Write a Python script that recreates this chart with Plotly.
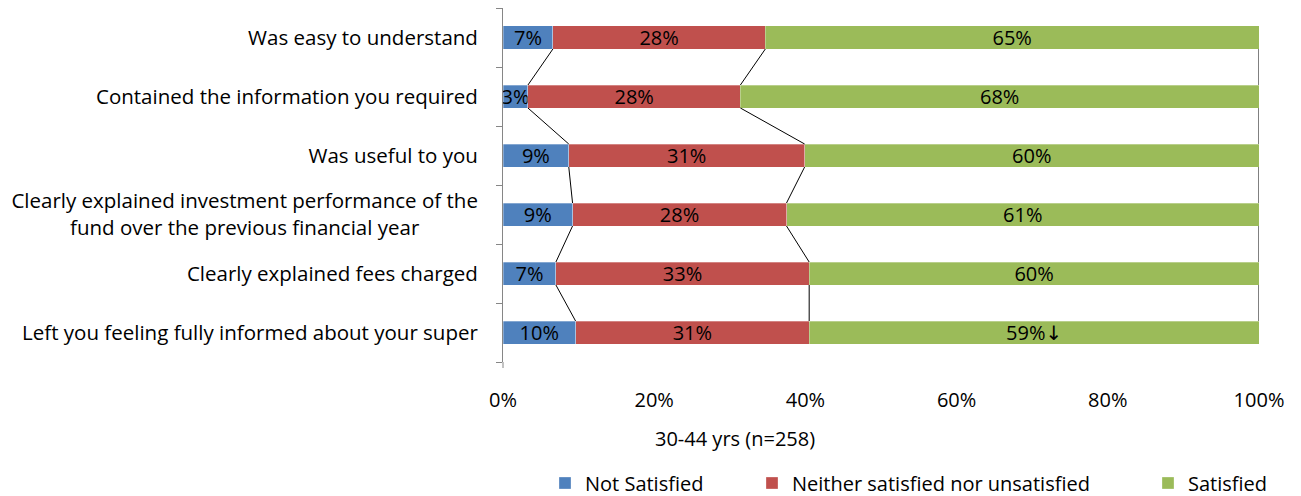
import plotly.graph_objects as go

# ---------------- data ----------------
categories = [
    "Was easy to understand",
    "Contained the information you required",
    "Was useful to you",
    "Clearly explained investment performance of the<br>fund over the previous financial year" + "\u00a0" * 11,
    "Clearly explained fees charged",
    "Left you feeling fully informed about your super",
]
series_names = ["Not Satisfied", "Neither satisfied nor unsatisfied", "Satisfied"]
not_satisfied = [6.6, 3.3, 8.7, 9.2, 7.0, 9.6]
neither = [28.1, 28.1, 31.2, 28.3, 33.5, 30.9]
satisfied = [65.3, 68.6, 60.1, 62.5, 59.5, 59.5]
labels_not = ["7%", "3%", "9%", "9%", "7%", "10%"]
labels_neither = ["28%", "28%", "31%", "28%", "33%", "31%"]
labels_sat = ["65%", "68%", "60%", "61%", "60%",
              "59%<span style=\"font-family:'DejaVu Sans'\">\u2193</span>"]
x_tick_vals = [0, 20, 40, 60, 80, 100]
x_tick_text = ["0%", "20%", "40%", "60%", "80%", "100%"]
axis_title = "30-44 yrs (n=258)"

colors = ["#4F81BD", "#C0504D", "#9BBB59"]
FONT = "Open Sans"
# page has an 8px body margin: figure coordinates = reference pixels - 8
OFF = 8
W, H = 1301 - OFF, 496 - OFF
L = 503 - OFF
R = W - (1259 - OFF)
T = 0
B = H - (362 - OFF)
bar_w = 0.39

rows = list(range(len(categories)))
series = [not_satisfied, neither, satisfied]
labels = [labels_not, labels_neither, labels_sat]

fig = go.Figure()
legend_ids = ["legend", "legend2", "legend3"]
for k in range(3):
    fig.add_trace(go.Bar(
        x=series[k], y=rows, orientation="h", width=bar_w,
        name=series_names[k],
        marker=dict(color=colors[k], line=dict(width=0.5, color="rgba(255,255,255,0.6)")),
        text=labels[k], textposition="inside", insidetextanchor="middle",
        textangle=0, constraintext="none",
        textfont=dict(family=FONT, size=20, color="#000"),
        legend=legend_ids[k], cliponaxis=False, hoverinfo="skip",
    ))

# series lines (connect cumulative boundaries between adjacent bars)
cum1 = [a for a in not_satisfied]
cum2 = [a + b for a, b in zip(not_satisfied, neither)]
cum3 = [a + b + c for a, b, c in zip(not_satisfied, neither, satisfied)]
lx, ly = [], []
for cum in (cum1, cum2, cum3):
    for i in range(len(rows) - 1):
        lx += [cum[i], cum[i + 1], None]
        ly += [rows[i] + bar_w / 2, rows[i + 1] - bar_w / 2, None]
fig.add_trace(go.Scatter(x=lx, y=ly, mode="lines", line=dict(color="#000", width=1),
                         showlegend=False, hoverinfo="skip", cliponaxis=False))

fig.update_layout(
    barmode="stack",
    width=W, height=H,
    margin=dict(l=L, r=R, t=T, b=B, autoexpand=False),
    paper_bgcolor="white", plot_bgcolor="white",
    font=dict(family=FONT, size=20, color="#000"),
    showlegend=True,
)
fig.update_xaxes(
    range=[0, 100], tickvals=x_tick_vals, ticktext=x_tick_text,
    showgrid=False, zeroline=False, showline=False, ticks="",
    ticklabelstandoff=24, tickfont=dict(family=FONT, size=20, color="#000"),
)
fig.update_yaxes(
    range=[len(rows) - 0.5, -0.5], tickvals=rows, ticktext=categories,
    showgrid=False, zeroline=False, showline=True, linecolor="#868686", linewidth=1,
    ticks="", ticklabelstandoff=20, tickfont=dict(family=FONT, size=20.5, color="#000"),
    minor=dict(tickvals=[r - 0.5 for r in rows] + [rows[-1] + 0.5], ticks="outside",
               ticklen=6, tickcolor="#868686", tickwidth=1),
)

plot_w = W - L - R
plot_h = H - T - B
# axis line runs a few px past the last tick, as in the reference
fig.add_shape(type="line", xref="paper", yref="paper", x0=0, x1=0, y0=0, y1=-6 / plot_h,
              line=dict(color="#868686", width=1))
fig.add_annotation(
    text=axis_title, showarrow=False, xref="paper", yref="paper",
    x=(735 - OFF - L) / plot_w, y=(H - B - (438 - OFF)) / plot_h,
    xanchor="center", yanchor="middle",
    font=dict(family=FONT, size=20, color="#000"),
)

legend_left = [545, 752, 1148]
for lid, lxp in zip(legend_ids, legend_left):
    fig.update_layout(**{lid: dict(
        orientation="h", xref="container", yref="container",
        x=(lxp - OFF) / W, y=1 - (483 - OFF) / H, xanchor="left", yanchor="middle",
        font=dict(family=FONT, size=20, color="#000"), bgcolor="rgba(0,0,0,0)",
    )})

fig.write_html("out.html")
